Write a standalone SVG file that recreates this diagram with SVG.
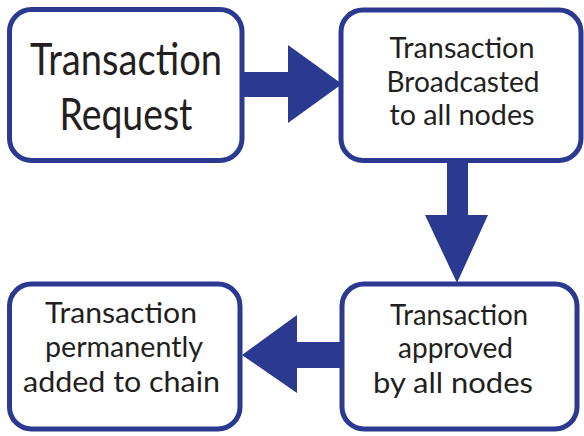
<svg xmlns="http://www.w3.org/2000/svg" width="584" height="436" viewBox="0 0 584 436">
<style>
.box{fill:#fff;stroke:#2b3990;stroke-width:5}
.arr{fill:#2b3990}
text{font-family:Lato,"Open Sans","Liberation Sans",sans-serif;fill:#231f20;text-anchor:middle}
.big{font-size:45px}
.sm{font-size:29px}
</style>
<rect width="584" height="436" fill="#fff"/>
<g id="connectors">
<polygon class="arr" points="243,72 288,72 288,45 342,84 288,123 288,97 243,97"/>
<polygon class="arr" points="447,161 468,161 468,215 488,215 457,283 425,215 447,215"/>
<polygon class="arr" points="341,342 297,342 297,315 242,355 297,393 297,368 341,368"/>
</g>
<g id="n1">
<rect class="box" x="9.5" y="9.5" width="232.5" height="151" rx="22"/>
<text class="big" x="126" y="75" textLength="192" lengthAdjust="spacingAndGlyphs">Transaction</text>
<text class="big" x="126" y="130" textLength="133" lengthAdjust="spacingAndGlyphs">Request</text>
</g>
<g id="n2">
<rect class="box" x="341" y="10" width="240" height="150.5" rx="22"/>
<text class="sm" x="462" y="58" textLength="145" lengthAdjust="spacingAndGlyphs">Transaction</text>
<text class="sm" x="463" y="92" textLength="153" lengthAdjust="spacingAndGlyphs">Broadcasted</text>
<text class="sm" x="462" y="125" textLength="145" lengthAdjust="spacingAndGlyphs">to all nodes</text>
</g>
<g id="n3">
<rect class="box" x="9.5" y="284" width="230.5" height="145" rx="22"/>
<text class="sm" x="121" y="323" textLength="152" lengthAdjust="spacingAndGlyphs">Transaction</text>
<text class="sm" x="124" y="357" textLength="158" lengthAdjust="spacingAndGlyphs">permanently</text>
<text class="sm" x="121.5" y="392" textLength="197" lengthAdjust="spacingAndGlyphs">added to chain</text>
</g>
<g id="n4">
<rect class="box" x="342" y="284" width="235" height="145" rx="22"/>
<text class="sm" x="459" y="325" textLength="138" lengthAdjust="spacingAndGlyphs">Transaction</text>
<text class="sm" x="455.5" y="358" textLength="115" lengthAdjust="spacingAndGlyphs">approved</text>
<text class="sm" x="453" y="393" textLength="160" lengthAdjust="spacingAndGlyphs">by all nodes</text>
</g>
</svg>
